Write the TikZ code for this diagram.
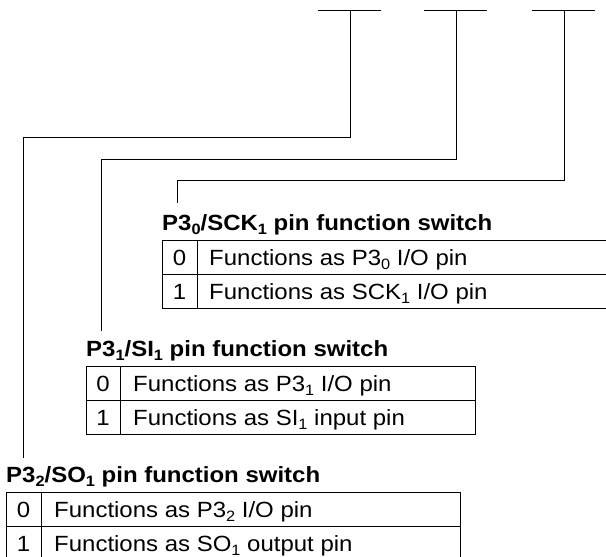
\documentclass[tikz,border=0pt]{standalone}
\usepackage{fontspec}
\setmainfont{Liberation Sans}[FakeStretch=1.09]
\usetikzlibrary{calc}
\newcommand\mysub[1]{\raisebox{-4.5pt}{\fontsize{15}{15}\selectfont #1}}
\begin{document}
\begin{tikzpicture}[x=1pt,y=-1pt,
  line/.style={draw=black,line width=1pt},
  title/.style={anchor=base west,inner sep=0pt,font=\fontsize{22}{26}\selectfont\bfseries},
  cell/.style={anchor=base west,inner sep=0pt,font=\fontsize{22}{26}\selectfont},
  digit/.style={anchor=base,inner sep=0pt,font=\fontsize{22}{26}\selectfont}]
\useasboundingbox (0,0) rectangle (606,557);
\clip (0,0) rectangle (606,557);
% top bars
\coordinate (b1) at (350,10);
\coordinate (b2) at (456,10);
\coordinate (b3) at (564,10);
\foreach \b in {b1,b2,b3}{\draw[line] ($(\b)+(-32,0)$) -- ($(\b)+(31,0)$);}
% titles
\node[title] (t1) at (162,230) {P3\mysub{0}/SCK\mysub{1} pin function switch};
\node[title] (t2) at (86,356) {P3\mysub{1}/SI\mysub{1} pin function switch};
\node[title] (t3) at (6,482) {P3\mysub{2}/SO\mysub{1} pin function switch};
% connector ends
\coordinate (e1) at (23,458);
\coordinate (e2) at (101,331);
\coordinate (e3) at (177,203);
\draw[line] (b1) -- ++(0,127) -| (e1);
\draw[line] (b2) -- ++(0,149) -| (e2);
\draw[line] (b3) -- ++(0,170) -| (e3);
% table 1
\draw[line] (162,240) rectangle (612,308);
\draw[line] (162,274) -- (612,274);
\draw[line] (197,240) -- (197,308);
\node[digit] (d10) at (179.5,265) {0};
\node[digit] (d11) at (179.5,299) {1};
\node[cell] (c10) at (209,265) {Functions as P3\mysub{0} I/O pin};
\node[cell] (c11) at (209,299) {Functions as SCK\mysub{1} I/O pin};
% table 2
\draw[line] (86,366) rectangle (475,434);
\draw[line] (86,400) -- (475,400);
\draw[line] (120,366) -- (120,434);
\node[digit] (d20) at (103,391) {0};
\node[digit] (d21) at (103,425) {1};
\node[cell] (c20) at (133,391) {Functions as P3\mysub{1} I/O pin};
\node[cell] (c21) at (133,425) {Functions as SI\mysub{1} input pin};
% table 3
\draw[line] (6,492) rectangle (460,561);
\draw[line] (6,526) -- (460,526);
\draw[line] (41,492) -- (41,561);
\node[digit] (d30) at (23.5,517) {0};
\node[digit] (d31) at (23.5,551) {1};
\node[cell] (c30) at (54,517) {Functions as P3\mysub{2} I/O pin};
\node[cell] (c31) at (54,551) {Functions as SO\mysub{1} output pin};
\end{tikzpicture}
\end{document}
